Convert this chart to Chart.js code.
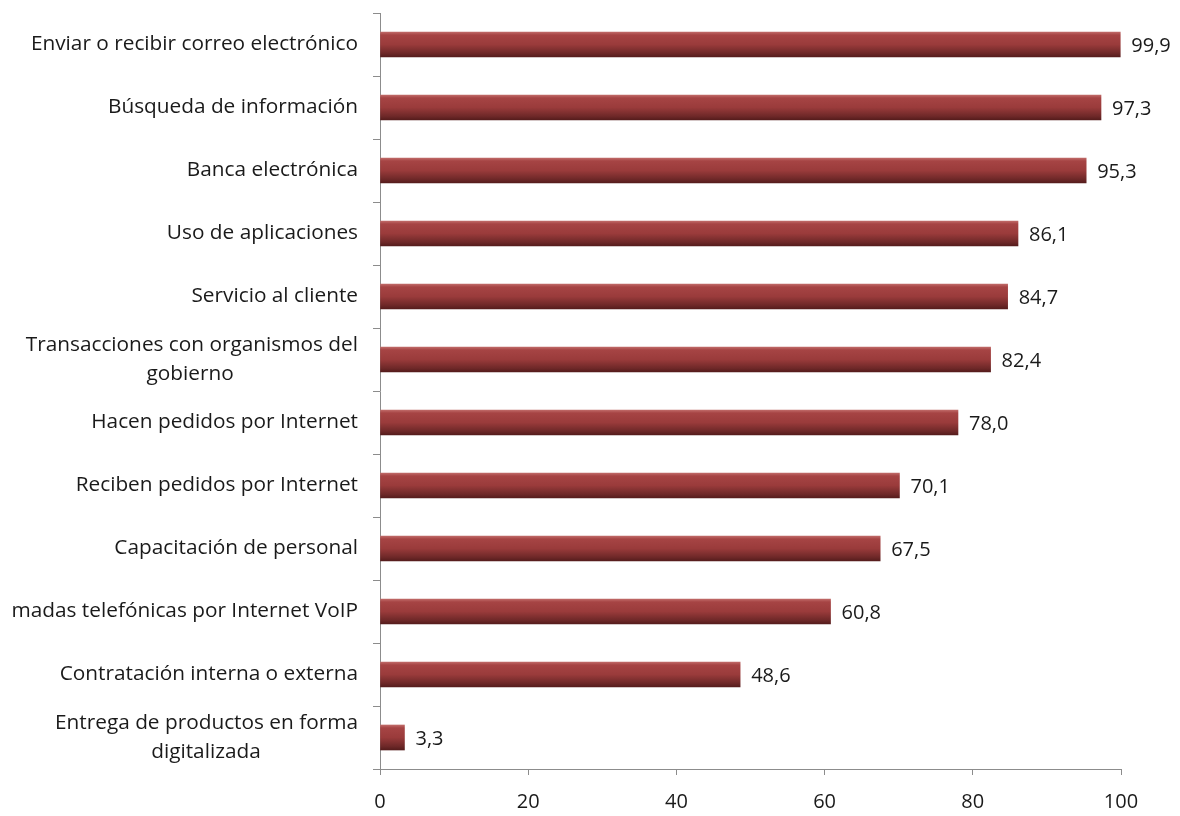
<!DOCTYPE html>
<html>
<head>
<meta charset="utf-8">
<script src="https://cdn.jsdelivr.net/npm/chart.js@4/dist/chart.umd.min.js"></script>
<style>
  html, body { margin: 0; padding: 0; background: #fff; }
  #wrap { width: 1180px; height: 816px; }
</style>
</head>
<body>
<div id="wrap"><canvas id="chart"></canvas></div>
<script>
const categories = [
    'Enviar o recibir correo electrónico',
    'Búsqueda de información',
    'Banca electrónica',
    'Uso de aplicaciones',
    'Servicio al cliente',
    ['Transacciones con organismos del', 'gobierno'],
    'Hacen pedidos por Internet',
    'Reciben pedidos por Internet',
    'Capacitación de personal',
    'madas telefónicas por Internet VoIP',
    'Contratación interna o externa',
    ['Entrega de productos en forma', 'digitalizada']
]
const values = [99.9, 97.3, 95.3, 86.1, 84.7, 82.4, 78.0, 70.1, 67.5, 60.8, 48.6, 3.3]
const xTicks = [0, 20, 40, 60, 80, 100]

const FONT = "'Open Sans', sans-serif"
const FONT_SIZE = 20.8
const BAR_H = 25

// centre the second line of two-line labels under the first, like the original
function centreLines(label, ctx) {
    if (!Array.isArray(label)) return label
    ctx.font = FONT_SIZE + 'px ' + FONT
    const w0 = ctx.measureText(label[0]).width
    const w1 = ctx.measureText(label[1]).width
    const sp = ctx.measureText('\u00a0').width
    const n = Math.round(((w0 - w1) / 2) / sp)
    return [label[0], label[1] + '\u00a0'.repeat(n)]
}

const measureCtx = document.createElement('canvas').getContext('2d')
const yLabels = categories.map(c => centreLines(c, measureCtx))

const valueLabels = {
    id: 'valueLabels',
    afterDatasetsDraw(chart) {
        const ctx = chart.ctx
        const meta = chart.getDatasetMeta(0)
        ctx.save()
        ctx.font = '20px ' + FONT
        ctx.fillStyle = '#1a1a1a'
        ctx.textBaseline = 'middle'
        ctx.textAlign = 'left'
        meta.data.forEach((bar, i) => {
            ctx.fillText(values[i].toFixed(1).replace('.', ','), bar.x + 11, bar.y + 2)
        })
        ctx.restore()
    }
}

function barGradient(context) {
    const chart = context.chart
    const yScale = chart.scales.y
    if (!yScale || context.dataIndex === undefined) return '#993a3a'
    const yc = yScale.getPixelForValue(context.dataIndex)
    if (!isFinite(yc)) return '#993a3a'
    const g = chart.ctx.createLinearGradient(0, yc - BAR_H / 2, 0, yc + BAR_H / 2)
    g.addColorStop(0, '#c06a68')
    g.addColorStop(0.12, '#a64444')
    g.addColorStop(0.5, '#9a3b3b')
    g.addColorStop(0.85, '#6e2828')
    g.addColorStop(1, '#551c1c')
    return g
}

new Chart(document.getElementById('chart'), {
    type: 'bar',
    data: {
        labels: yLabels,
        datasets: [
            {
                data: values,
                backgroundColor: barGradient,
                borderWidth: 0,
                barThickness: BAR_H
            }
        ]
    },
    options: {
        indexAxis: 'y',
        responsive: true,
        maintainAspectRatio: false,
        animation: false,
        layout: {
            padding: { top: 13, right: 59, left: 0, bottom: 0 }
        },
        scales: {
            x: {
                min: 0,
                max: 100,
                afterBuildTicks: scale => {
                    scale.ticks = xTicks.map(v => ({ value: v }))
                },
                afterFit: scale => { scale.height = 47 },
                border: { display: true, color: '#8c8c8c', width: 1 },
                grid: {
                    drawOnChartArea: false,
                    drawTicks: true,
                    tickLength: 6,
                    color: '#8c8c8c'
                },
                ticks: {
                    font: { family: FONT, size: 20 },
                    color: '#1a1a1a',
                    padding: 15,
                    maxRotation: 0
                }
            },
            y: {
                offset: true,
                afterFit: scale => {
                    scale.width = 380
                    scale.paddingTop = 0
                    scale.paddingBottom = 0
                },
                border: { display: true, color: '#8c8c8c', width: 1 },
                grid: {
                    offset: true,
                    drawOnChartArea: false,
                    drawTicks: true,
                    tickLength: 7,
                    color: '#8c8c8c'
                },
                ticks: {
                    font: { family: FONT, size: FONT_SIZE, lineHeight: 1.4 },
                    color: '#1a1a1a',
                    padding: 15,
                    autoSkip: false
                }
            }
        },
        plugins: {
            legend: { display: false },
            tooltip: { enabled: false }
        }
    },
    plugins: [valueLabels]
});
</script>
</body>
</html>
